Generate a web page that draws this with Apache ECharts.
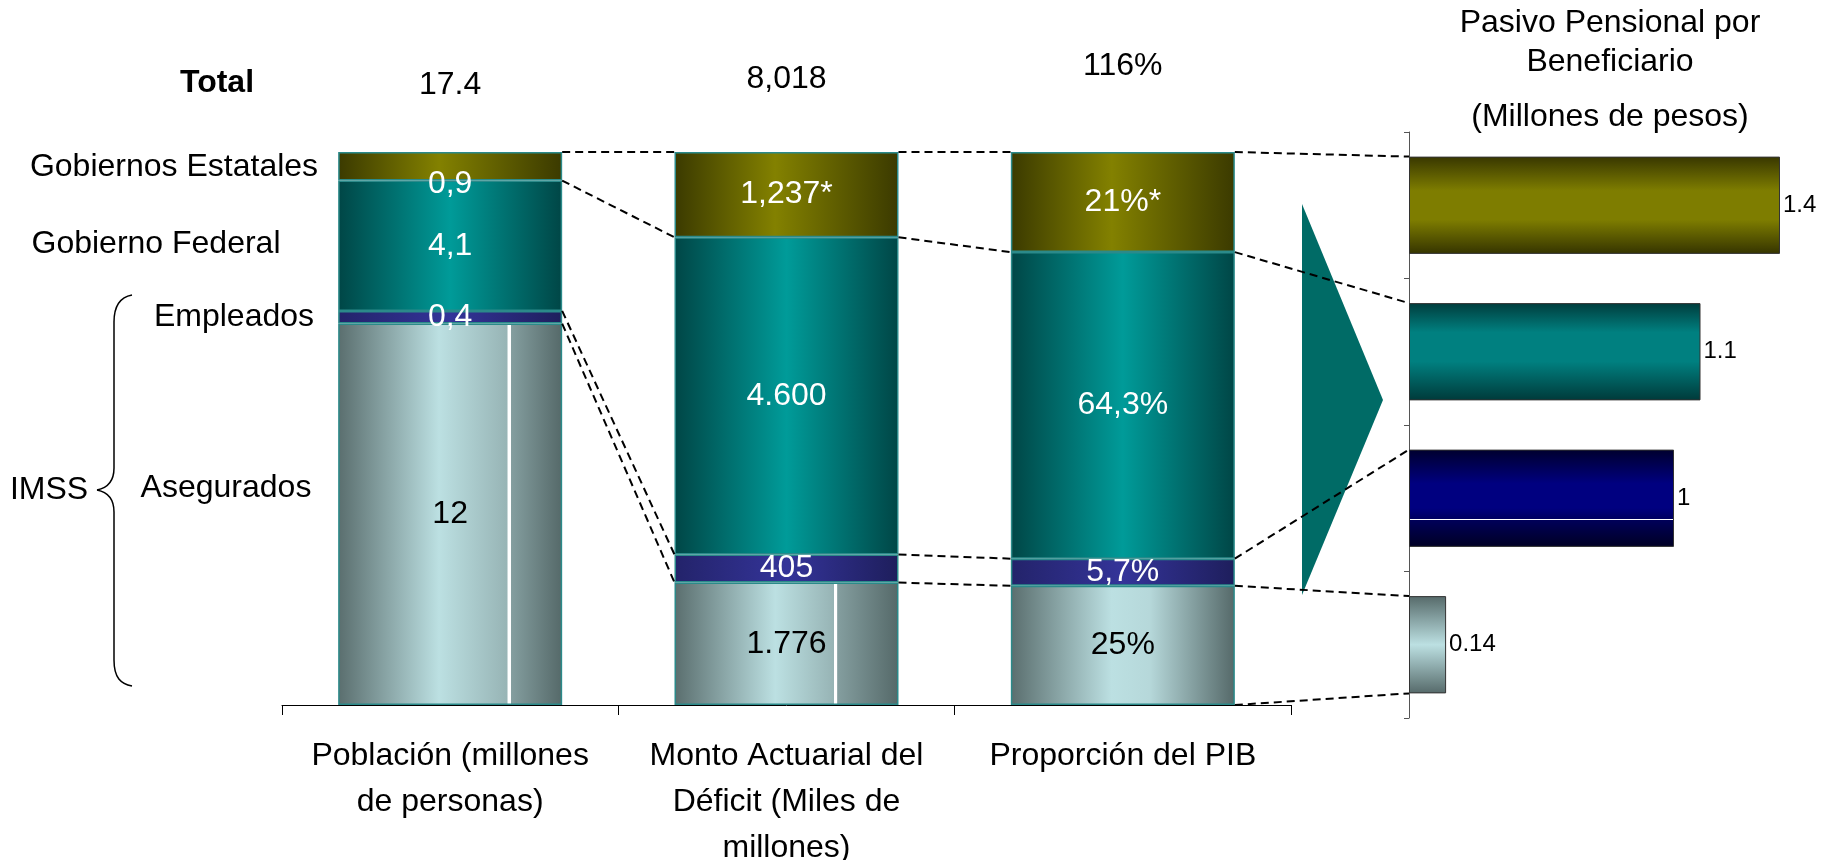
<!DOCTYPE html>
<html>
<head>
<meta charset="utf-8">
<script src="https://cdn.jsdelivr.net/npm/echarts@6/dist/echarts.min.js"></script>
<style>
  body { margin: 0; background: #fff; }
  #chart { width: 1829px; height: 860px; }
</style>
</head>
<body>
<div id="chart"></div>
<script>
// categorias del eje inferior
const cats = ['Población (millones\nde personas)', 'Monto Actuarial del\nDéficit (Miles de\nmillones)', 'Proporción del PIB'];
const segNames = ['Gobiernos Estatales', 'Gobierno Federal', 'Empleados', 'Asegurados'];

// valores por segmento (poblacion, monto, % PIB)
const asegurados = [12, 1776, 25];
const empleados = [0.4, 405, 5.7];
const federal = [4.1, 4600, 64.3];
const estatales = [0.9, 1237, 21];
const totals = [17.4, 8018, 116];

// etiquetas tal como aparecen
const asegLabels = ['12', '1.776', '25%'];
const emplLabels = ['0,4', '405', '5,7%'];
const fedLabels = ['4,1', '4.600', '64,3%'];
const estLabels = ['0,9', '1,237*', '21%*'];
const totalLabels = ['17.4', '8,018', '116%'];

// pasivo pensional por beneficiario
const pasivoCats = ['Gobiernos Estatales', 'Gobierno Federal', 'Empleados', 'Asegurados'];
const pasivo = [1.4, 1.1, 1, 0.14];
const pasivoLabels = ['1.4', '1.1', '1', '0.14'];

const FONT = "'Liberation Sans', Arial, sans-serif";
const G = echarts.graphic.LinearGradient;

function hGrad(edgeL, mid, edgeR, midPos) {
  return new G(0, 0, 1, 0, [
    { offset: 0, color: edgeL }, { offset: midPos, color: mid }, { offset: 1, color: edgeR }
  ]);
}
function grayGrad(line) {
  let stops = [{ offset: 0, color: '#5a6e6e' }, { offset: 0.45, color: '#bce0e2' }];
  if (line) {
    stops.push({ offset: line - 0.01, color: '#97b4b5' }, { offset: line - 0.008, color: '#ffffff' },
      { offset: line + 0.006, color: '#ffffff' }, { offset: line + 0.008, color: '#849e9f' });
  } else {
    stops.push({ offset: 0.62, color: '#b6d8da' });
  }
  stops.push({ offset: 1, color: '#556969' });
  return new G(0, 0, 1, 0, stops);
}
const grayLines = [0.765, 0.72, 0];

const olive = hGrad('#3b3a00', '#838100', '#3b3a00', 0.45);
const teal = hGrad('#004646', '#009b99', '#004646', 0.5);
const blue = hGrad('#23236a', '#343499', '#1e1e5c', 0.5);

function share(arr) { return arr.map((v, i) => v / totals[i]); }

function segSeries(name, arr, labels, color, txtColor) {
  return {
    name: name, type: 'bar', stack: 'tot', xAxisIndex: 0, yAxisIndex: 0,
    barCategoryGap: '33.4%',
    data: share(arr).map((v, i) => {
      let d = { value: v };
      if (name === 'Asegurados') d.itemStyle = { color: grayGrad(grayLines[i]) };
      if (name === 'Gobiernos Estatales' && i === 0) d.label = { offset: [0, 18] };
      return d;
    }),
    itemStyle: { color: color, borderColor: '#2b8a8a', borderWidth: 1.5 },
    label: {
      show: true, position: 'inside', fontFamily: FONT, fontSize: 32, color: txtColor,
      formatter: p => labels[p.dataIndex]
    }
  };
}

const rightColors = [
  new G(0, 0, 0, 1, [{ offset: 0, color: '#383700' }, { offset: 0.35, color: '#7e7d00' }, { offset: 0.65, color: '#7e7d00' }, { offset: 1, color: '#353400' }]),
  new G(0, 0, 0, 1, [{ offset: 0, color: '#003d3d' }, { offset: 0.3, color: '#008080' }, { offset: 0.6, color: '#008080' }, { offset: 1, color: '#003a3a' }]),
  new G(0, 0, 0, 1, [{ offset: 0, color: '#00002e' }, { offset: 0.35, color: '#000080' }, { offset: 0.6, color: '#000080' },
    { offset: 0.712, color: '#000060' }, { offset: 0.714, color: '#ffffff' }, { offset: 0.726, color: '#ffffff' },
    { offset: 0.728, color: '#000058' }, { offset: 1, color: '#000024' }]),
  new G(0, 0, 0, 1, [{ offset: 0, color: '#566a6a' }, { offset: 0.5, color: '#bce0e2' }, { offset: 1, color: '#566a6a' }])
];

const chart = echarts.init(document.getElementById('chart'));
chart.setOption({
  animation: false,
  grid: [
    { left: 282, top: 152, width: 1009, height: 553, outerBoundsMode: 'none', containLabel: false },
    { left: 1409, top: 132, width: 397.5, height: 586, outerBoundsMode: 'none', containLabel: false }
  ],
  xAxis: [
    {
      type: 'category', gridIndex: 0, data: cats,
      axisLine: { show: true, lineStyle: { color: '#000', width: 1 } },
      axisTick: { show: true, length: 10, lineStyle: { color: '#000' } },
      axisLabel: { fontFamily: FONT, fontSize: 32, lineHeight: 46, color: '#000', margin: 28, interval: 0 }
    },
    { type: 'value', gridIndex: 1, min: 0, max: 1.5, show: false }
  ],
  yAxis: [
    { type: 'value', gridIndex: 0, min: 0, max: 1, show: false },
    {
      type: 'category', gridIndex: 1, data: pasivoCats, inverse: true,
      axisLine: { show: true, lineStyle: { color: '#555', width: 1 } },
      axisTick: { show: true, length: 5, lineStyle: { color: '#555' } },
      axisLabel: { show: false }
    }
  ],
  series: [
    segSeries('Asegurados', asegurados, asegLabels, grayGrad(0), '#000'),
    segSeries('Empleados', empleados, emplLabels, blue, '#fff'),
    segSeries('Gobierno Federal', federal, fedLabels, teal, '#fff'),
    segSeries('Gobiernos Estatales', estatales, estLabels, olive, '#fff'),
    {
      type: 'bar', xAxisIndex: 1, yAxisIndex: 1, barCategoryGap: '33.6%',
      data: pasivo.map((v, i) => ({ value: v, itemStyle: { color: rightColors[i] } })),
      itemStyle: { borderColor: '#333', borderWidth: 1 },
      label: {
        show: true, position: 'right', distance: 3, fontFamily: FONT, fontSize: 24, color: '#000',
        formatter: p => pasivoLabels[p.dataIndex]
      }
    }
  ]
});

// conectores punteados calculados desde los ejes
const px = (i, v) => chart.convertToPixel({ gridIndex: 0 }, [i, v]);
const band = px(1, 0)[0] - px(0, 0)[0];
const half = band * (1 - 0.334) / 2;
const cum = [0, 1, 2].map(i => {
  let c = [0], s = 0;
  [asegurados, empleados, federal, estatales].forEach(a => { s += a[i] / totals[i]; c.push(s); });
  return c;
});
const edge = (i, side, k) => [px(i, 0)[0] + side * half, px(i, cum[i][k])[1]];
const rx0 = chart.convertToPixel({ gridIndex: 1 }, [0, 0])[0];
const rband = chart.convertToPixel({ gridIndex: 1 }, [0, 1])[1] - chart.convertToPixel({ gridIndex: 1 }, [0, 0])[1];
const rhalf = rband * (1 - 0.336) / 2;
const rEdge = (j, side) => [rx0, chart.convertToPixel({ gridIndex: 1 }, [0, j])[1] + side * rhalf];

const links = [
  [edge(0, 1, 4), edge(1, -1, 4)], [edge(1, 1, 4), edge(2, -1, 4)], [edge(2, 1, 4), rEdge(0, -1)],
  [edge(0, 1, 3), edge(1, -1, 3)], [edge(1, 1, 3), edge(2, -1, 3)], [edge(2, 1, 3), rEdge(1, -1)],
  [edge(0, 1, 2), edge(1, -1, 2)], [edge(0, 1, 1), edge(1, -1, 1)],
  [edge(1, 1, 2), edge(2, -1, 2)], [edge(1, 1, 1), edge(2, -1, 1)],
  [edge(2, 1, 2), rEdge(2, -1)], [edge(2, 1, 1), rEdge(3, -1)], [edge(2, 1, 0), rEdge(3, 1)]
];

const txt = (x, y, text, size, extra) => ({
  type: 'text', x: x, y: y, z: 20,
  style: Object.assign({ text: text, fontFamily: FONT, fontSize: size, fill: '#000', align: 'center', verticalAlign: 'middle' }, extra || {})
});
const braceStyle = { fill: 'none', stroke: '#000', lineWidth: 1.5 };
const curve = (x1, y1, c1x, c1y, c2x, c2y, x2, y2) => ({
  type: 'bezierCurve', z: 10, style: braceStyle,
  shape: { x1: x1, y1: y1, cpx1: c1x, cpy1: c1y, cpx2: c2x, cpy2: c2y, x2: x2, y2: y2 }
});
const seg = (x1, y1, x2, y2) => ({ type: 'line', z: 10, style: braceStyle, shape: { x1: x1, y1: y1, x2: x2, y2: y2 } });

const totalY = [85, 79, 66];
const graphics = [
  // flecha
  { type: 'polygon', z: 5, shape: { points: [[1302, 204], [1383, 400], [1302, 595]] }, style: { fill: '#006b66' } },
  // llave IMSS
  curve(132, 295, 121, 297, 114, 304, 114, 322),
  seg(114, 322, 114, 468),
  curve(114, 468, 114, 482, 107, 488, 97, 490),
  curve(97, 490, 107, 492, 114, 498, 114, 512),
  seg(114, 512, 114, 660),
  curve(114, 660, 114, 678, 121, 684, 132, 686),
  txt(217, 83, 'Total', 32, { fontWeight: 'bold' }),
  txt(49, 490, 'IMSS', 32),
  txt(174, 167, segNames[0], 32),
  txt(156, 244, segNames[1], 32),
  txt(234, 317, segNames[2], 32),
  txt(226, 488, segNames[3], 32),
  txt(1610, 23, 'Pasivo Pensional por', 32),
  txt(1610, 62, 'Beneficiario', 32),
  txt(1610, 117, '(Millones de pesos)', 32)
];
totalLabels.forEach((t, i) => graphics.push(txt(px(i, 0)[0], totalY[i], t, 32)));
links.forEach(l => graphics.push({
  type: 'line', z: 15, shape: { x1: l[0][0], y1: l[0][1], x2: l[1][0], y2: l[1][1] },
  style: { stroke: '#000', lineWidth: 2, lineDash: [8, 5] }
}));
chart.setOption({ graphic: graphics });
</script>
</body>
</html>
